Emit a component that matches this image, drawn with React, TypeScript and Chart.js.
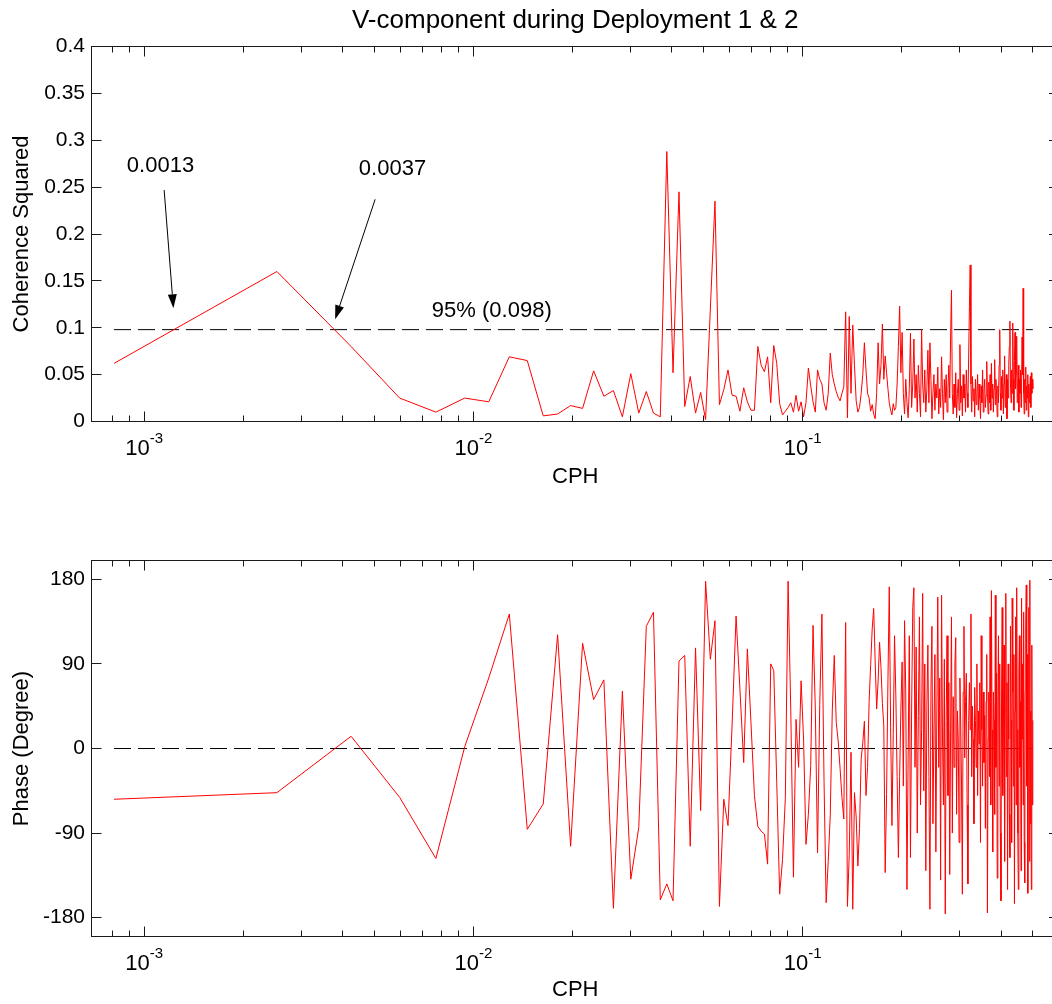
import React, { useEffect, useRef } from "react";
import { Chart, registerables } from "chart.js";

Chart.register(...registerables);

const FONT = "'Liberation Sans', Arial, Helvetica, sans-serif";
Chart.defaults.font.family = FONT;
Chart.defaults.color = "#000";

// ---------------- data ----------------
const frequencyCph = [
  0.00081, 0.00253, 0.00425, 0.00597, 0.00769, 0.00941, 0.01113, 0.01285, 0.01457, 0.01629,
  0.01801, 0.01973, 0.02145, 0.02317, 0.02489, 0.02661, 0.02833, 0.03005, 0.03177, 0.03349,
  0.03521, 0.03693, 0.03865, 0.04037, 0.04209, 0.04381, 0.04553, 0.04725, 0.04897, 0.05069,
  0.05241, 0.05413, 0.05585, 0.05757, 0.05929, 0.06101, 0.06273, 0.06445, 0.06617, 0.06789,
  0.06961, 0.07133, 0.07305, 0.07477, 0.07649, 0.07821, 0.07993, 0.08165, 0.08337, 0.08509,
  0.08681, 0.08853, 0.09025, 0.09197, 0.09369, 0.09541, 0.09713, 0.09885, 0.10057, 0.10229,
  0.10401, 0.10573, 0.10745, 0.10917, 0.11089, 0.11261, 0.11433, 0.11605, 0.11777, 0.11949,
  0.12121, 0.12293, 0.12465, 0.12637, 0.12809, 0.12981, 0.13153, 0.13325, 0.13497, 0.13669,
  0.13841, 0.14013, 0.14185, 0.14357, 0.14529, 0.14701, 0.14873, 0.15045, 0.15217, 0.15389,
  0.15561, 0.15733, 0.15905, 0.16077, 0.16249, 0.16421, 0.16593, 0.16765, 0.16937, 0.17109,
  0.17281, 0.17453, 0.17625, 0.17797, 0.17969, 0.18141, 0.18313, 0.18485, 0.18657, 0.18829,
  0.19001, 0.19173, 0.19345, 0.19517, 0.19689, 0.19861, 0.20033, 0.20205, 0.20377, 0.20549,
  0.20721, 0.20893, 0.21065, 0.21237, 0.21409, 0.21581, 0.21753, 0.21925, 0.22097, 0.22269,
  0.22441, 0.22613, 0.22785, 0.22957, 0.23129, 0.23301, 0.23473, 0.23645, 0.23817, 0.23989,
  0.24161, 0.24333, 0.24505, 0.24677, 0.24849, 0.25021, 0.25193, 0.25365, 0.25537, 0.25709,
  0.25881, 0.26053, 0.26225, 0.26397, 0.26569, 0.26741, 0.26913, 0.27085, 0.27257, 0.27429,
  0.27601, 0.27773, 0.27945, 0.28117, 0.28289, 0.28461, 0.28633, 0.28805, 0.28977, 0.29149,
  0.29321, 0.29493, 0.29665, 0.29837, 0.30009, 0.30181, 0.30353, 0.30525, 0.30697, 0.30869,
  0.31041, 0.31213, 0.31385, 0.31557, 0.31729, 0.31901, 0.32073, 0.32245, 0.32417, 0.32589,
  0.32761, 0.32933, 0.33105, 0.33277, 0.33449, 0.33621, 0.33793, 0.33965, 0.34137, 0.34309,
  0.34481, 0.34653, 0.34825, 0.34997, 0.35169, 0.35341, 0.35513, 0.35685, 0.35857, 0.36029,
  0.36201, 0.36373, 0.36545, 0.36717, 0.36889, 0.37061, 0.37233, 0.37405, 0.37577, 0.37749,
  0.37921, 0.38093, 0.38265, 0.38437, 0.38609, 0.38781, 0.38953, 0.39125, 0.39297, 0.39469,
  0.39641, 0.39813, 0.39985, 0.40157, 0.40329, 0.40501, 0.40673, 0.40845, 0.41017, 0.41189,
  0.41361, 0.41533, 0.41705, 0.41877, 0.42049, 0.42221, 0.42393, 0.42565, 0.42737, 0.42909,
  0.43081, 0.43253, 0.43425, 0.43597, 0.43769, 0.43941, 0.44113, 0.44285, 0.44457, 0.44629,
  0.44801, 0.44973, 0.45145, 0.45317, 0.45489, 0.45661, 0.45833, 0.46005, 0.46177, 0.46349,
  0.46521, 0.46693, 0.46865, 0.47037, 0.47209, 0.47381, 0.47553, 0.47725, 0.47897, 0.48069,
  0.48241, 0.48413, 0.48585, 0.48757, 0.48929, 0.49101, 0.49273, 0.49445, 0.49617, 0.49789,
  0.49961,
];

const coherenceSquared = [
  0.062, 0.160, 0.080, 0.025, 0.010, 0.025, 0.021, 0.069, 0.065, 0.006,
  0.008, 0.017, 0.014, 0.054, 0.027, 0.033, 0.005, 0.051, 0.009, 0.032,
  0.009, 0.005, 0.288, 0.052, 0.245, 0.016, 0.048, 0.009, 0.031, 0.002,
  0.120, 0.235, 0.018, 0.034, 0.055, 0.028, 0.027, 0.011, 0.036, 0.021,
  0.012, 0.012, 0.080, 0.060, 0.053, 0.069, 0.020, 0.081, 0.062, 0.019,
  0.007, 0.011, 0.015, 0.020, 0.010, 0.028, 0.011, 0.021, 0.005, 0.020,
  0.057, 0.038, 0.021, 0.010, 0.055, 0.045, 0.040, 0.020, 0.012, 0.030,
  0.073, 0.050, 0.040, 0.032, 0.026, 0.022, 0.030, 0.037, 0.117, 0.004,
  0.112, 0.030, 0.103, 0.060, 0.022, 0.010, 0.015, 0.030, 0.050, 0.084,
  0.055, 0.030, 0.025, 0.011, 0.018, 0.008, 0.003, 0.030, 0.084, 0.040,
  0.060, 0.104, 0.045, 0.070, 0.052, 0.035, 0.020, 0.012, 0.007, 0.019,
  0.012, 0.015, 0.040, 0.080, 0.123, 0.052, 0.095,
  0.030, 0.008, 0.045, 0.020, 0.004, 0.035, 0.094, 0.015, 0.040, 0.088,
  0.025, 0.050, 0.010, 0.060, 0.030, 0.005, 0.098, 0.040, 0.020, 0.055,
  0.010, 0.035, 0.076, 0.020, 0.084, 0.045, 0.003, 0.030, 0.050, 0.012,
  0.040, 0.025, 0.058, 0.008, 0.035, 0.015, 0.069, 0.030, 0.002, 0.045,
  0.020, 0.050, 0.010, 0.035, 0.060, 0.025, 0.090, 0.140, 0.030, 0.008,
  0.040, 0.015, 0.052, 0.004, 0.030, 0.045, 0.012, 0.082, 0.020, 0.038,
  0.006, 0.050, 0.025, 0.040, 0.010, 0.055, 0.030, 0.015, 0.070, 0.123,
  0.167, 0.040, 0.010, 0.048, 0.022, 0.035, 0.005, 0.045, 0.018, 0.030,
  0.050, 0.012, 0.040, 0.025, 0.003, 0.038, 0.020, 0.055, 0.010, 0.032,
  0.045, 0.015, 0.028, 0.064, 0.030, 0.008, 0.042, 0.020, 0.050, 0.012,
  0.062, 0.025, 0.040, 0.010, 0.035, 0.066, 0.018, 0.045, 0.028, 0.005,
  0.038, 0.020, 0.060, 0.098, 0.030, 0.012, 0.048, 0.025, 0.055, 0.008,
  0.040, 0.070, 0.015, 0.035, 0.050, 0.003, 0.045, 0.025, 0.060, 0.080,
  0.107, 0.040, 0.020, 0.055, 0.030, 0.105, 0.045, 0.012, 0.065, 0.095,
  0.035, 0.050, 0.091, 0.020, 0.040, 0.060, 0.010, 0.045, 0.030, 0.055,
  0.015, 0.040, 0.090, 0.050, 0.142, 0.030, 0.008, 0.045, 0.020, 0.058,
  0.012, 0.038, 0.025, 0.050, 0.005, 0.040, 0.020, 0.035, 0.048, 0.015,
  0.052, 0.030, 0.045, 0.035,
];

const phaseDegree = [
  -54, -47, 13, -52, -117, 2, 75, 143, -86, -59,
  121, -104, 112, 52, 73, -170, 61, -139, -84, 130,
  145, -161, -144, -162, 93, 99, -104, 107, -66, 178,
  95, 136, -168, -54, -82, 25, 141, 63, -15, 106,
  28, -50, -83, -88, -91, -123, 90, 83, -36, -155,
  -118, -53, 178, 40, -137, 31, -20, 72, 10, -102,
  -70, -18, 131, 43, -111, 47, 143, -35, -164, -120,
  -71, 40, 99, 28, 8, -21, -52, -75, 134, -168,
  -113, -4, -171, -47, -73, -125, -85, -11, 6, 29,
  -50, -20, 50, 89, 127, 149, 92, 42, 72, 113,
  86, 48, 24, -132, -49, 71, 172, 22, -82, 16,
  120, 56, -30, -116, -30, 43, 92,
  -40, 136, 60, -150, -10, 120, -116, 40, 150, 171,
  -20, 108, -90, 35, 140, -60, 20, 165, -45, 90,
  -130, 45, 110, -30, -171, 60, 130, -80, 15, 100,
  -110, 40, 161, -20, 75, -140, 163, 10, -60, 95,
  -176, 30, 120, -50, 70, -134, 20, 140, -90, 55,
  -20, 90, 118, -70, 40, 10, -100, 75, 25, -40,
  -155, 60, 130, -10, 50, 80, -60, -144, 30, 70,
  20, 143, -30, 45, 10, -80, 65, 30, -20, 90,
  -50, 40, 5, 70, -100, 120, 20, -40, 60, -15,
  35, -85, 50, 100, -175, 10, 60, -30, 140, -60,
  168, 20, -110, 60, 30, -70, 163, -20, 80, -138,
  50, 120, -40, 90, -90, -162, 60, 150, -50, 20,
  110, -120, 40, 165, -30, 70, -150, 90, 10, -70,
  -116, 130, 30, -100, 160, 60, -40, 100, -165, 40,
  140, -60, 171, 20, -90, -150, 80, 120, -20, 50,
  -130, 160, 10, 90, -60, 145, -100, -143, 60, 130,
  174, -40, 100, -154, 20, 150, -120, 179, -80, 40,
  -150, 110, -60, 30,
];

const confidence95 = 0.098;
const zeroPhase = 0;

const coherenceTicks = [0, 0.05, 0.1, 0.15, 0.2, 0.25, 0.3, 0.35, 0.4];
const coherenceTickLabels = ["0", "0.05", "0.1", "0.15", "0.2", "0.25", "0.3", "0.35", "0.4"];
const phaseTicks = [-180, -90, 0, 90, 180];
const phaseTickLabels = ["-180", "-90", "0", "90", "180"];
const decadeTicks = [0.001, 0.01, 0.1];
const decadeExponents = ["-3", "-2", "-1"];

const titleText = "V-component during Deployment 1 & 2";

// annotation texts and arrows (data coordinates)
const noteTexts = [
  { text: "0.0013", x: 0.000886, y: 0.2664 },
  { text: "0.0037", x: 0.004487, y: 0.2629 },
  { text: "95% (0.098)", x: 0.007476, y: 0.1115 },
];
const noteArrows = [
  { fromX: 0.00115, fromY: 0.2469, toX: 0.001227, toY: 0.1207 },
  { fromX: 0.005029, fromY: 0.237, toX: 0.003802, toY: 0.109 },
];

// ---------------- layout / style ----------------
const X_MIN = 6.92e-4;
const X_MAX = 0.6;
const AXIS_COLOR = "#1a1a1a";
const MAJOR_TICK = 10;
const MINOR_TICK = 6;

const snap = (v: number) => Math.round(v - 0.5) + 0.5;

const matlabAxesPlugin = {
  id: "matlabAxes",
  afterDatasetsDraw(chart: any, _args: any, opts: any) {
    const { ctx, chartArea: a } = chart;
    const xs = chart.scales.x;
    const ys = chart.scales.y;
    ctx.save();
    ctx.strokeStyle = AXIS_COLOR;
    ctx.lineWidth = 1;
    ctx.beginPath();
    for (const v of opts.yTicks as number[]) {
      const y = snap(ys.getPixelForValue(v));
      ctx.moveTo(a.left, y);
      ctx.lineTo(a.left + MAJOR_TICK, y);
      ctx.moveTo(a.right, y);
      ctx.lineTo(a.right - MAJOR_TICK, y);
    }
    for (const d of decadeTicks) {
      const x = snap(xs.getPixelForValue(d));
      ctx.moveTo(x, a.bottom);
      ctx.lineTo(x, a.bottom - MAJOR_TICK);
      ctx.moveTo(x, a.top);
      ctx.lineTo(x, a.top + MAJOR_TICK);
    }
    for (let e = -4; e <= -1; e++) {
      for (let m = 2; m <= 9; m++) {
        const v = m * Math.pow(10, e);
        if (v <= X_MIN || v >= X_MAX) continue;
        const px = xs.getPixelForValue(v);
        if (px - a.left < 3 || a.right - px < 3) continue;
        const x = snap(px);
        ctx.moveTo(x, a.bottom);
        ctx.lineTo(x, a.bottom - MINOR_TICK);
        ctx.moveTo(x, a.top);
        ctx.lineTo(x, a.top + MINOR_TICK);
      }
    }
    ctx.stroke();
    ctx.strokeRect(a.left, a.top, a.right - a.left, a.bottom - a.top);

    // x tick labels: 10 with raised exponent
    ctx.fillStyle = "#000";
    ctx.textAlign = "left";
    ctx.textBaseline = "alphabetic";
    decadeTicks.forEach((d, i) => {
      const x = xs.getPixelForValue(d);
      ctx.font = `22px ${FONT}`;
      const w1 = ctx.measureText("10").width;
      ctx.font = `15px ${FONT}`;
      const w2 = ctx.measureText(decadeExponents[i]).width;
      const start = x - (w1 + w2) / 2;
      ctx.font = `22px ${FONT}`;
      ctx.fillText("10", start, a.bottom + 33);
      ctx.font = `15px ${FONT}`;
      ctx.fillText(decadeExponents[i], start + w1, a.bottom + 21);
    });
    ctx.restore();
  },
};

const notesPlugin = {
  id: "coherenceNotes",
  afterDatasetsDraw(chart: any) {
    const { ctx } = chart;
    const xs = chart.scales.x;
    const ys = chart.scales.y;
    ctx.save();
    ctx.fillStyle = "#000";
    ctx.strokeStyle = "#000";
    ctx.lineWidth = 1;
    ctx.font = `22px ${FONT}`;
    ctx.textAlign = "left";
    ctx.textBaseline = "alphabetic";
    for (const n of noteTexts) {
      ctx.fillText(n.text, xs.getPixelForValue(n.x), ys.getPixelForValue(n.y));
    }
    for (const ar of noteArrows) {
      const sx = xs.getPixelForValue(ar.fromX);
      const sy = ys.getPixelForValue(ar.fromY);
      const tx = xs.getPixelForValue(ar.toX);
      const ty = ys.getPixelForValue(ar.toY);
      const len = Math.hypot(tx - sx, ty - sy);
      const ux = (tx - sx) / len;
      const uy = (ty - sy) / len;
      const head = 14;
      const half = 4.5;
      const bx = tx - ux * head;
      const by = ty - uy * head;
      ctx.beginPath();
      ctx.moveTo(sx, sy);
      ctx.lineTo(bx, by);
      ctx.stroke();
      ctx.beginPath();
      ctx.moveTo(tx, ty);
      ctx.lineTo(bx - uy * half, by + ux * half);
      ctx.lineTo(bx + uy * half, by - ux * half);
      ctx.closePath();
      ctx.fill();
    }
    ctx.restore();
  },
};

function lineSeries(values: number[]) {
  return frequencyCph.map((f, i) => ({ x: f, y: values[i] }));
}

function refLine(level: number) {
  return [
    { x: frequencyCph[0], y: level },
    { x: frequencyCph[frequencyCph.length - 1], y: level },
  ];
}

function buildConfig(kind: "coherence" | "phase"): any {
  const isTop = kind === "coherence";
  const yTicks = isTop ? coherenceTicks : phaseTicks;
  const yLabels = isTop ? coherenceTickLabels : phaseTickLabels;
  return {
    type: "line",
    data: {
      datasets: [
        {
          data: lineSeries(isTop ? coherenceSquared : phaseDegree),
          borderColor: "#ff0000",
          borderWidth: 1,
          pointRadius: 0,
          tension: 0,
        },
        {
          data: refLine(isTop ? confidence95 : zeroPhase),
          borderColor: "#000",
          borderWidth: 1,
          borderDash: [17, 7],
          pointRadius: 0,
          tension: 0,
        },
      ],
    },
    options: {
      animation: false,
      responsive: false,
      devicePixelRatio: 1,
      events: [],
      layout: { padding: { left: 0, right: 3, top: isTop ? 0 : 60.5, bottom: 0 } },
      plugins: {
        legend: { display: false },
        tooltip: { enabled: false },
        title: {
          display: isTop,
          text: titleText,
          fullSize: false,
          color: "#000",
          font: { size: 26, weight: "normal", family: FONT },
          padding: { top: 5.7, bottom: 9.6 },
        },
        matlabAxes: { yTicks },
      },
      scales: {
        x: {
          type: "logarithmic",
          min: X_MIN,
          max: X_MAX,
          grid: { display: false, drawTicks: false },
          border: { display: false },
          ticks: { display: false },
          title: {
            display: true,
            text: "CPH",
            color: "#000",
            font: { size: 22, family: FONT },
            padding: { top: 0, bottom: isTop ? 9.8 : 0.8 },
          },
          afterFit: (s: any) => {
            s.height = isTop ? 78.5 : 67.5;
          },
        },
        y: {
          type: "linear",
          min: isTop ? 0 : -200,
          max: isTop ? 0.4 : 200,
          afterBuildTicks: (s: any) => {
            s.ticks = yTicks.map((value) => ({ value }));
          },
          grid: { display: false, drawTicks: false },
          border: { display: false },
          ticks: {
            autoSkip: false,
            color: "#000",
            padding: 6.5,
            font: { size: 21, family: FONT },
            callback: (_v: any, i: number) => yLabels[i],
          },
          title: {
            display: true,
            text: isTop ? "Coherence Squared" : "Phase (Degree)",
            color: "#000",
            font: { size: 22, family: FONT },
            padding: { top: 8.5, bottom: 0 },
          },
          afterFit: (s: any) => {
            s.width = 91.5;
          },
        },
      },
    },
    plugins: isTop ? [matlabAxesPlugin, notesPlugin] : [matlabAxesPlugin],
  };
}

export default function App() {
  const topRef = useRef<HTMLCanvasElement>(null);
  const bottomRef = useRef<HTMLCanvasElement>(null);

  useEffect(() => {
    const top = new Chart(topRef.current as HTMLCanvasElement, buildConfig("coherence"));
    const bottom = new Chart(bottomRef.current as HTMLCanvasElement, buildConfig("phase"));
    return () => {
      top.destroy();
      bottom.destroy();
    };
  }, []);

  return (
    <div
      style={{
        position: "fixed",
        left: 0,
        top: 0,
        width: 1052,
        height: 1004,
        overflow: "hidden",
        background: "#fff",
      }}
    >
      <canvas
        ref={topRef}
        width={1062}
        height={500}
        style={{ position: "absolute", left: 0, top: 0, width: 1062, height: 500 }}
      />
      <canvas
        ref={bottomRef}
        width={1062}
        height={504}
        style={{ position: "absolute", left: 0, top: 500, width: 1062, height: 504 }}
      />
    </div>
  );
}
